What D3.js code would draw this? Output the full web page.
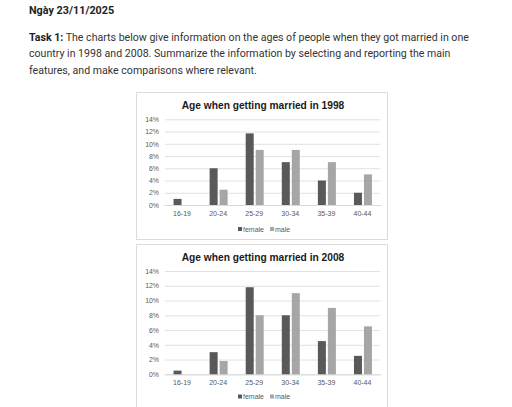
<!DOCTYPE html>
<html><head><meta charset="utf-8">
<script src="https://cdn.jsdelivr.net/npm/d3@7"></script>
<style>
html,body{margin:0;padding:0;background:#fff;}
svg{display:block;}
</style></head>
<body>
<script>
const categories = ["16-19","20-24","25-29","30-34","35-39","40-44"];
const series = ["female","male"];
const female1998 = [1, 6, 11.7, 7, 4, 2];
const male1998   = [0, 2.5, 9, 9, 7, 5];
const female2008 = [0.5, 3, 11.8, 8, 4.5, 2.5];
const male2008   = [0, 1.8, 8, 11, 9, 6.5];
const yTicks = [0, 2, 4, 6, 8, 10, 12, 14];
const titles = ["Age when getting married in 1998", "Age when getting married in 2008"];
const heading = "Ngày 23/11/2025";
const taskLabel = "Task 1:";
const taskLines = [
  " The charts below give information on the ages of people when they got married in one",
  "country in 1998 and 2008. Summarize the information by selecting and reporting the main",
  "features, and make comparisons where relevant."
];

const W = 512, H = 407;
const svg = d3.select("body").append("svg").attr("width", W).attr("height", H);
svg.append("rect").attr("width", W).attr("height", H).attr("fill", "#fff");

const bodyFont = "Roboto, 'Noto Sans', sans-serif";
svg.append("text").attr("x", 29).attr("y", 14)
  .attr("font-family", bodyFont).attr("font-weight", "bold").attr("font-size", 10.8)
  .attr("fill", "#222").text(heading);

taskLines.forEach((ln, i) => {
  const t = svg.append("text").attr("x", 29).attr("y", 40.5 + i * 16.7)
    .attr("font-family", bodyFont).attr("font-size", 10.6).attr("fill", "#333");
  if (i === 0) t.append("tspan").attr("font-weight", "bold").attr("fill", "#222").text(taskLabel);
  t.append("tspan").text(ln);
});

const chartFont = "'Liberation Sans', Arial, sans-serif";
const colors = d3.scaleOrdinal(series, ["#595959", "#a6a6a6"]);

function drawChart(cfg, fem, mal, title) {
  const g = svg.append("g");
  g.append("rect").attr("x", cfg.px + 0.5).attr("y", cfg.py + 0.5)
    .attr("width", cfg.pw).attr("height", cfg.ph)
    .attr("fill", "#fff").attr("stroke", "#dcdcdc").attr("stroke-width", 1);

  const x0 = d3.scaleBand(categories, [164, 380.5]).paddingInner(0).paddingOuter(0);
  const x1 = d3.scaleBand(series, [0, 18]).paddingInner(0.2).paddingOuter(0);
  const y = d3.scaleLinear([0, 14], [cfg.y0, cfg.y14]);

  g.append("text").attr("x", 263).attr("y", cfg.titleY)
    .attr("text-anchor", "middle").attr("font-family", chartFont)
    .attr("font-weight", "bold").attr("font-size", 10.2).attr("fill", "#1a1a1a").text(title);

  const yAxis = d3.axisLeft(y).tickValues(yTicks).tickSize(-(380 - 165)).tickPadding(6)
    .tickFormat(d => d + "%");
  const ya = g.append("g").attr("transform", "translate(165,0)").call(yAxis);
  ya.select(".domain").remove();
  ya.selectAll(".tick line").attr("stroke", "#d9d9d9").attr("stroke-width", 0.8);
  ya.selectAll(".tick text").attr("font-family", chartFont).attr("font-size", 6.9).attr("fill", "#595959");

  const xAxis = d3.axisBottom(x0).tickSize(0).tickPadding(6);
  const xa = g.append("g").attr("transform", `translate(0,${cfg.y0})`).call(xAxis);
  xa.select(".domain").attr("stroke", "#d9d9d9");
  xa.selectAll(".tick text").attr("font-family", chartFont).attr("font-size", 7).attr("fill", "#595959");

  const rows = categories.map((c, i) => ({ cat: c, vals: [{ s: "female", v: fem[i] }, { s: "male", v: mal[i] }] }));
  const grp = g.selectAll(".grp").data(rows).join("g")
    .attr("transform", d => `translate(${x0(d.cat) + x0.bandwidth() / 2 - 8.5},0)`);
  grp.selectAll("rect").data(d => d.vals).join("rect")
    .attr("x", d => x1(d.s)).attr("width", x1.bandwidth())
    .attr("y", d => y(d.v)).attr("height", d => y(0) - y(d.v))
    .attr("fill", d => colors(d.s));

  const leg = g.append("g").attr("transform", `translate(265,${cfg.legY})`);
  const items = [{ s: "female", x: -27 }, { s: "male", x: 5 }];
  items.forEach(it => {
    leg.append("rect").attr("x", it.x).attr("y", -4.5).attr("width", 4).attr("height", 4).attr("fill", colors(it.s));
    leg.append("text").attr("x", it.x + 5).attr("y", 0).attr("font-family", chartFont)
      .attr("font-size", 7).attr("fill", "#595959").text(it.s);
  });
}

drawChart({ px: 136, py: 92, pw: 251, ph: 147, y0: 205, y14: 119.3, titleY: 108.5, legY: 231.5 }, female1998, male1998, titles[0]);
drawChart({ px: 136, py: 244, pw: 251, ph: 170, y0: 374.3, y14: 271, titleY: 260.5, legY: 399 }, female2008, male2008, titles[1]);
</script>
</body></html>
